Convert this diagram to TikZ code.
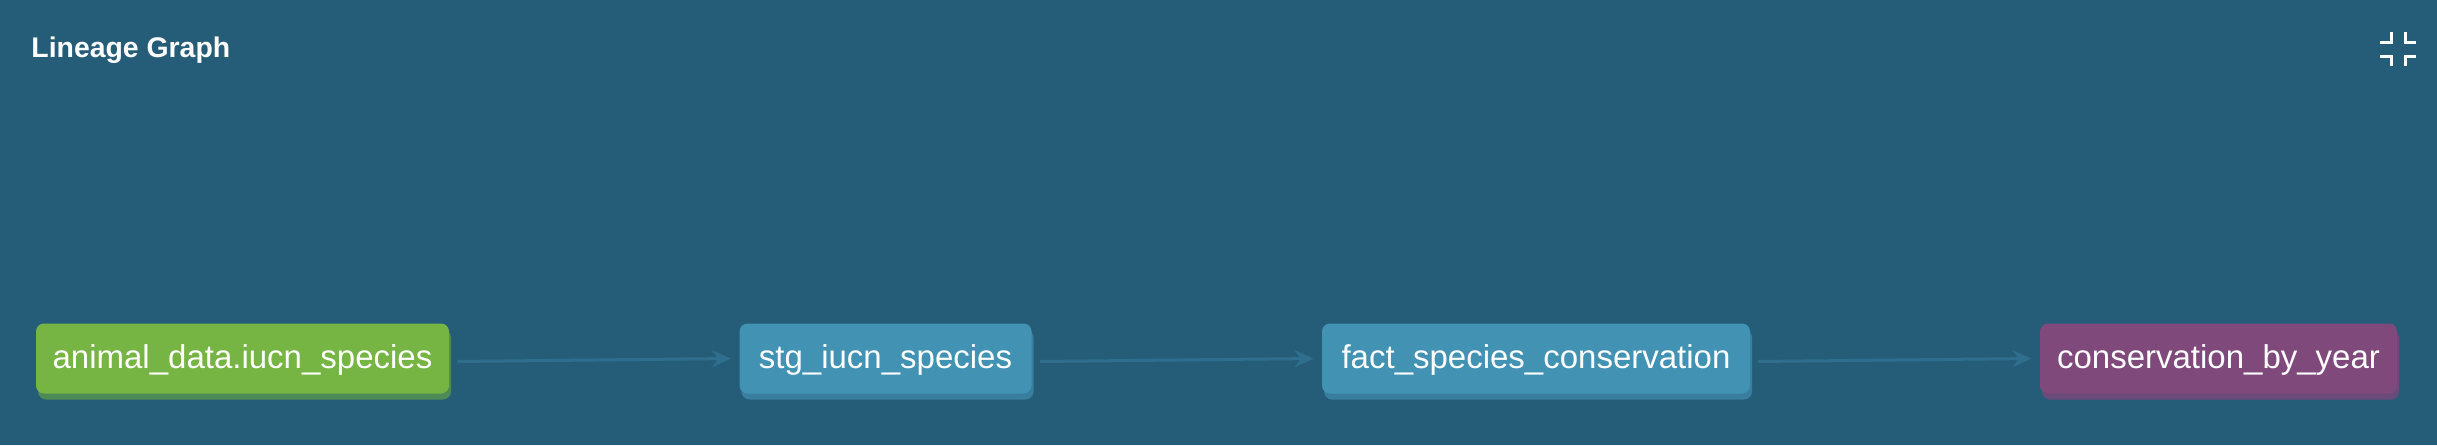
\documentclass[tikz,border=0pt]{standalone}
\usepackage{fontspec}
\setmainfont{Liberation Sans}
\usetikzlibrary{shadows,arrows.meta}

\definecolor{bgblue}{HTML}{255D79}
\definecolor{edgeblue}{HTML}{2F6E8C}
\definecolor{srcgreen}{HTML}{76B543}
\definecolor{srcshade}{HTML}{4E8A58}
\definecolor{modelblue}{HTML}{4192B3}
\definecolor{modelshade}{HTML}{3A7E9F}
\definecolor{leafpurple}{HTML}{7F4A7B}
\definecolor{leafshade}{HTML}{6A4A78}

\tikzset{
    table/.style={rounded corners=4pt, minimum height=35pt, inner sep=0pt,
        text height=12pt, text depth=2.5pt,
        text=white, font=\fontsize{16.5}{20}\selectfont},
    source/.style={table, fill=srcgreen,
        drop shadow={shadow xshift=1pt, shadow yshift=-3pt, fill=srcshade, opacity=1}},
    model/.style={table, fill=modelblue,
        drop shadow={shadow xshift=1pt, shadow yshift=-3pt, fill=modelshade, opacity=1}},
    leaf/.style={table, fill=leafpurple,
        drop shadow={shadow xshift=1pt, shadow yshift=-3pt, fill=leafshade, opacity=1}},
    flow/.style={draw=edgeblue, line width=1.5pt,
        -{Stealth[length=9.5pt, width=8.5pt]}},
}

\begin{document}
\begin{tikzpicture}[x=0.5pt, y=-0.5pt]
        \fill[bgblue] (0,0) rectangle (2437,445);
        \useasboundingbox (0,0) rectangle (2437,445);

        \node[anchor=base west, inner sep=0pt, text=white,
            font=\bfseries\fontsize{14.2}{17}\selectfont] (title) at (31,57) {Lineage Graph};

        \foreach \sx/\sy in {-1/-1,1/-1,-1/1,1/1}{
            \draw[white, line width=1.5pt]
                ({2398+7*\sx},{49+17*\sy}) -- ({2398+7*\sx},{49+7*\sy}) -- ({2398+18*\sx},{49+7*\sy});
        }

        \node[source, minimum width=206.5pt] (animal) at (242.5,358.5) {animal\_data.iucn\_species};
        \node[model, minimum width=146pt] (stg) at (885.5,358.5) {stg\_iucn\_species};
        \node[model, minimum width=214pt] (fact) at (1536,358.5) {fact\_species\_conservation};
        \node[leaf, minimum width=178.5pt] (year) at (2218.5,358.5) {conservation\_by\_year};

        \draw[flow] ([xshift=4pt,yshift=-1.5pt]animal.east) -- ([xshift=-4pt]stg.west);
        \draw[flow] ([xshift=4pt,yshift=-1.5pt]stg.east) -- ([xshift=-4pt]fact.west);
        \draw[flow] ([xshift=4pt,yshift=-1.5pt]fact.east) -- ([xshift=-4pt]year.west);
    \end{tikzpicture}
\end{document}
